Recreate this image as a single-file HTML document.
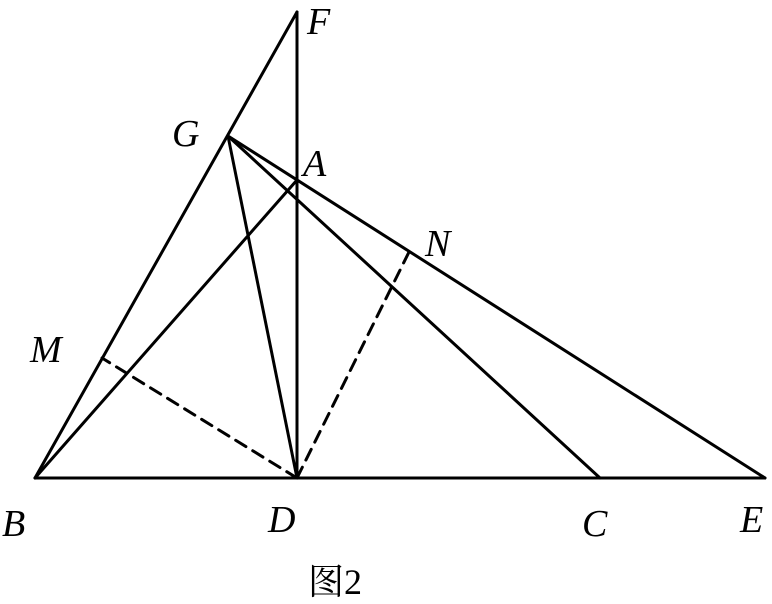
<!DOCTYPE html>
<html><head><meta charset="utf-8"><style>
html,body{margin:0;padding:0;background:#fff;}
svg{display:block;}
text{font-family:"Liberation Serif","Noto Serif CJK SC",serif;font-style:italic;font-size:38px;fill:#000;}
</style></head><body>
<svg width="772" height="604" viewBox="0 0 772 604" xmlns="http://www.w3.org/2000/svg">
<g stroke="#000" stroke-width="3" fill="none" stroke-linecap="round">
<line x1="35" y1="478" x2="765" y2="478"/>
<line x1="35" y1="478" x2="297" y2="12"/>
<line x1="297" y1="12" x2="297" y2="478"/>
<line x1="35" y1="478" x2="297" y2="180"/>
<line x1="228" y1="136" x2="765" y2="478"/>
<line x1="228" y1="136" x2="600" y2="478"/>
<line x1="228" y1="136" x2="297" y2="478"/>
<line x1="297" y1="478" x2="102" y2="358" stroke-dasharray="12,8"/>
<line x1="297" y1="478" x2="410" y2="250" stroke-dasharray="12,8"/>
</g>
<text x="307" y="34">F</text>
<text x="172" y="146">G</text>
<text x="303" y="176">A</text>
<text x="425" y="256">N</text>
<text x="30" y="362">M</text>
<text x="2" y="536">B</text>
<text x="268" y="532">D</text>
<text x="582" y="536">C</text>
<text x="740" y="532">E</text>
<text x="308" y="594" style="font-style:normal;font-size:36px">图2</text>
</svg>
</body></html>
